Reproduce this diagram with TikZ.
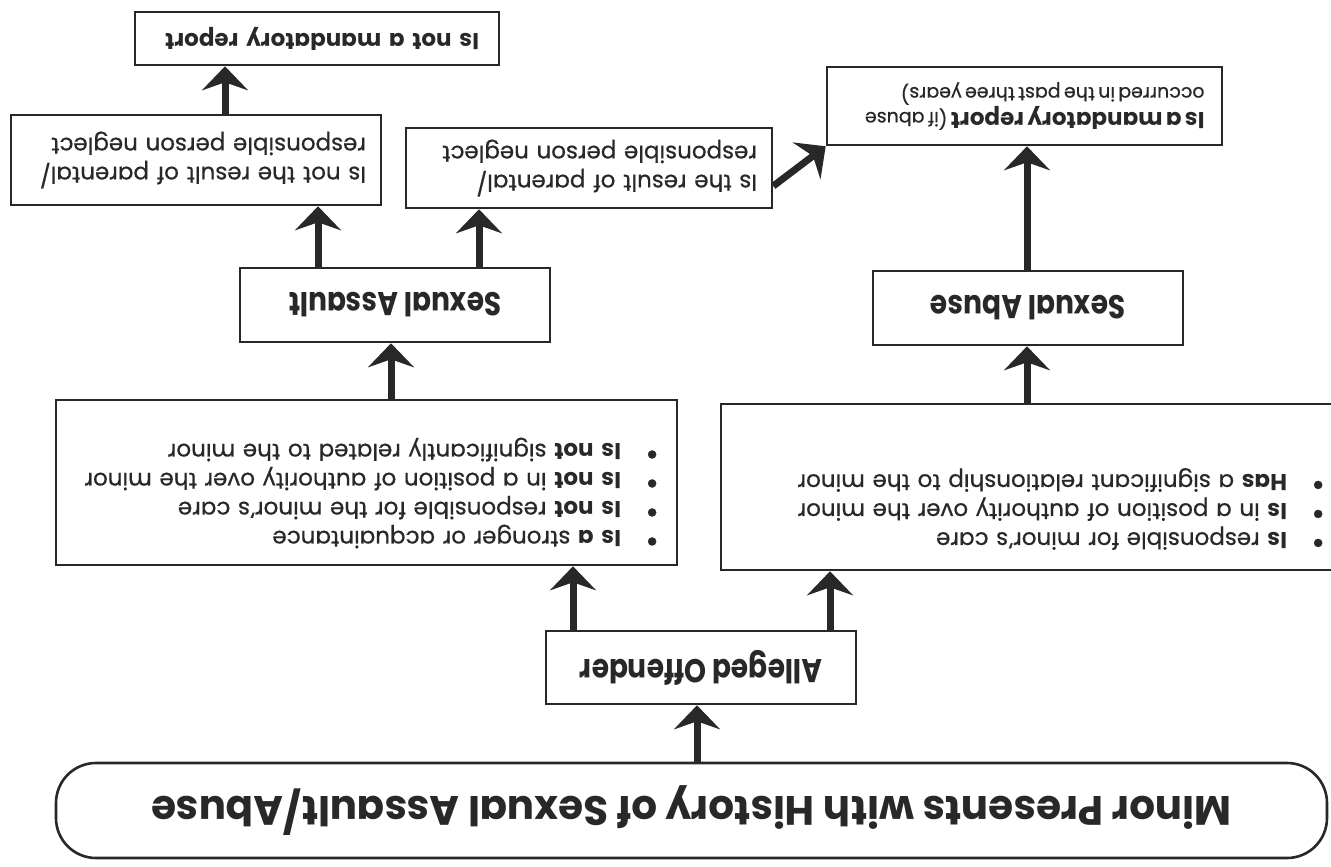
\documentclass[tikz,border=0pt]{standalone}
\usepackage{fontspec}
\setmainfont{Poppins}[UprightFeatures={FakeBold=0.6}]
\newfontfamily\headfont{Poppins}[FakeStretch=0.85]
\usetikzlibrary{arrows.meta}
\definecolor{ink}{RGB}{40,40,40}
\newcommand\bul{\makebox[38pt][l]{\smash{\raisebox{-0.5pt}{\scalebox{1.45}{\textbullet}}}}}
\tikzset{
  box/.style={draw=ink, line width=2.6pt, fill=white, rotate=180, inner sep=0pt, text=ink},
  lbl/.style={font=\headfont\bfseries\fontsize{33}{36}\selectfont},
  body/.style={font=\fontsize{23}{29}\selectfont, align=left},
  bodytxt/.style={body, rotate=180, text=ink, inner sep=0pt},
  conn/.style={draw=ink, line width=7pt, -{Stealth[length=24pt,width=46pt,inset=8pt]}},
}
\begin{document}
\begin{tikzpicture}[x=1pt,y=-1pt]
\useasboundingbox (0,0) rectangle (1331,867);
\fill[white] (0,0) rectangle (1331,867);
\begin{scope}
\clip (0,0) rectangle (1331,867);
% boxes
\node[box, rounded corners=40pt, minimum width=1271pt, minimum height=95pt,
      font=\headfont\bfseries\fontsize{50}{54}\selectfont] (title) at (691.5,810.5)
      {\resizebox{1080pt}{39pt}{Minor Presents with History of Sexual Assault/Abuse}};
\node[box, lbl, minimum width=310pt, minimum height=73pt] (offender) at (701,667.5) {Alleged Offender};
\node[box, minimum width=621pt, minimum height=165pt] (leftlist) at (366.5,482.5) {};
\node[bodytxt, text width=590pt] (leftlistT) at (364,493) {%
  \bul\textbf{Is a} stronger or acquaintance\\
  \bul\textbf{Is not} responsible for the minor's care\\
  \bul\textbf{Is not} in a position of authority over the minor\\
  \bul\textbf{Is not} significantly related to the minor};
\node[box, minimum width=630pt, minimum height=166pt] (rightlist) at (1036,487) {};
\node[bodytxt, text width=590pt] (rightlistT) at (1030,509) {%
  \bul\textbf{Is} responsible for minor's care\\
  \bul\textbf{Is} in a position of authority over the minor\\
  \bul\textbf{Has} a significant relationship to the minor};
\node[box, lbl, minimum width=310pt, minimum height=74pt] (sassault) at (395,305) {Sexual Assault};
\node[box, lbl, minimum width=310pt, minimum height=74pt] (sabuse) at (1028,308) {Sexual Abuse};
\node[box, body, text width=340pt, minimum width=370pt, minimum height=90pt] (notneglect) at (196,160)
  {Is not the result of parental/\\responsible person neglect};
\node[box, body, text width=336pt, minimum width=366pt, minimum height=80pt] (neglect) at (589,168)
  {Is the result of parental/\\responsible person neglect};
\node[box, body, text width=324pt, minimum width=364pt, minimum height=53pt] (notmand) at (317,38.5)
  {\textbf{Is not a mandatory report}};
\node[box, align=left, text width=360pt, minimum width=395pt, minimum height=78pt] (mand) at (1024.5,106)
  {\fontsize{23}{23}\selectfont\textbf{Is a mandatory report} \fontsize{19}{23}\selectfont(if abuse\\
   occurred in the past three years)};
% connectors
\draw[conn] (title.south -| 697,0) -- (offender.north -| 697,0);
\draw[conn] (offender.south -| 573,0) -- (leftlist.north -| 573,0);
\draw[conn] (offender.south -| 830,0) -- (rightlist.north -| 830,0);
\draw[conn] (leftlist.south -| 391,0) -- (sassault.north -| 391,0);
\draw[conn] (rightlist.south -| 1027,0) -- (sabuse.north -| 1027,0);
\draw[conn] (sassault.south -| 318,0) -- (notneglect.north -| 318,0);
\draw[conn] (sassault.south -| 479,0) -- (neglect.north -| 479,0);
\draw[conn] (notneglect.south -| 225,0) -- (notmand.north -| 225,0);
\draw[conn] (sabuse.south -| 1027,0) -- (mand.north -| 1027,0);
\draw[conn] (neglect.west |- 0,186) -- (mand.north east);
\end{scope}
\end{tikzpicture}
\end{document}
